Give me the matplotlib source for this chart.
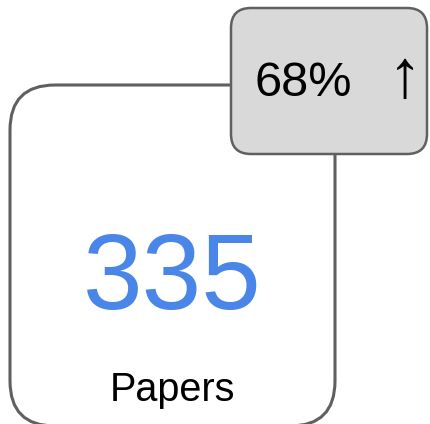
import matplotlib.pyplot as plt
from matplotlib.patches import FancyBboxPatch

plt.rcParams['font.family'] = ['Liberation Sans', 'DejaVu Sans']

# values shown on the card
count_value = "335"
count_label = "Papers"
change_value = "68%"
change_arrow = "\u2191"

fig = plt.figure(figsize=(4.3, 4.24), dpi=100)
ax = fig.add_axes([0, 0, 1, 1])
ax.set_xlim(0, 430)
ax.set_ylim(424, 0)
ax.axis('off')

# main card, its bottom edge touches the image edge
main = FancyBboxPatch((10 + 45, 85 + 45), 325 - 90, 341 - 90,
                      boxstyle="round,pad=45", fc='white', ec='#606060', lw=2.2,
                      clip_on=False)
ax.add_patch(main)

# badge in the top right corner
badge = FancyBboxPatch((231 + 20, 8 + 20), 196 - 40, 146 - 40,
                       boxstyle="round,pad=20", fc='#d9d9d9', ec='#606060', lw=1.8)
ax.add_patch(badge)

ax.text(172, 281, count_value, color='#4a86e8', fontsize=77,
        ha='center', va='center')
ax.text(172, 390, count_label, color='black', fontsize=28.5,
        ha='center', va='center')
ax.text(303, 84, change_value, color='black', fontsize=35,
        ha='center', va='center')
ax.text(405, 79, change_arrow, color='black', fontsize=49,
        ha='center', va='center')

fig.savefig('out.png', dpi=100)
